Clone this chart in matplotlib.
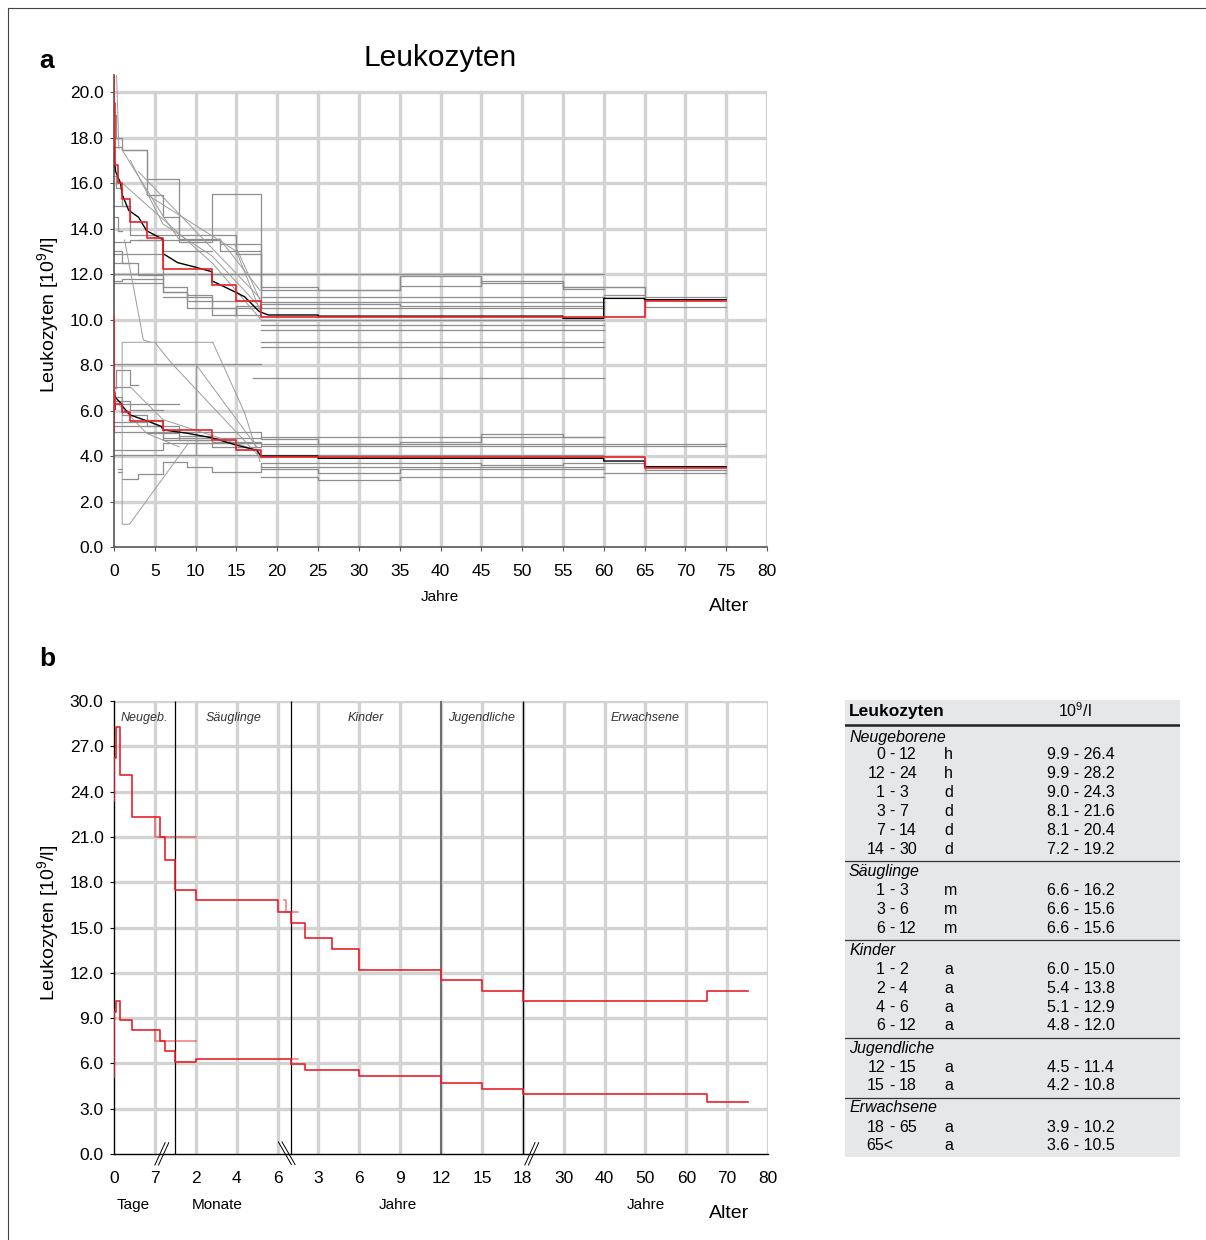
import numpy as np
import matplotlib.pyplot as plt
from matplotlib.lines import Line2D

plt.rcParams['font.family'] = ['Liberation Sans', 'DejaVu Sans']
plt.rcParams['mathtext.default'] = 'regular'

W, H = 1206, 1240

# reference limits (age in days, step "post")
ref_age_days = [0, 0, 0.3, 1, 3, 13, 18, 30, 60, 180, 365, 730, 1460, 2190,
                4380, 5475, 6570, 23725, 27375]
ref_upper = [23.4, 26.2, 28.3, 25.1, 22.3, 21.0, 19.5, 17.5, 16.8, 16.0, 15.3,
             14.3, 13.6, 12.2, 11.5, 10.8, 10.1, 10.8, 10.8]
ref_lower = [5.1, 9.4, 10.1, 8.9, 8.2, 7.5, 6.8, 6.07, 6.3, 6.3, 5.94, 5.55,
             5.55, 5.15, 4.72, 4.28, 3.95, 3.47, 3.47]

# overlapping secondary pieces in panel b (days)
extra_up = [([7, 7, 60], [22.3, 21.0, 21.0]),
            ([270, 290, 290, 548], [16.8, 16.8, 16.0, 16.0])]
extra_lo = [([7, 7, 60], [8.2, 7.5, 7.5]),
            ([365, 548], [6.3, 6.3])]

# black (mean) curves in panel a (years)
blk_up_x = [0, 0.05, 0.2, 0.8, 1.0, 1.8, 3.0, 4.0, 5.6, 6.0, 6.0, 7.8, 10, 12, 12,
            14.9, 16, 17.8, 18.9, 25, 25, 55, 55, 60, 60, 65, 65, 75]
blk_up_y = [17.6, 17.0, 16.5, 16.0, 15.5, 14.8, 14.5, 13.9, 13.6, 13.5, 12.9, 12.5,
            12.3, 12.1, 11.7, 11.2, 11.0, 10.35, 10.2, 10.2, 10.15, 10.15, 10.05,
            10.05, 10.93, 10.93, 10.87, 10.87]
blk_lo_x = [0, 0.1, 0.9, 1.0, 2.0, 4.0, 5.8, 6.0, 9, 12, 14.8, 17.5, 18, 25, 25,
            60, 60, 65, 65, 75]
blk_lo_y = [6.9, 6.6, 6.3, 6.2, 5.8, 5.55, 5.3, 5.15, 5.0, 4.8, 4.5, 4.25, 4.0, 4.0,
            3.9, 3.9, 3.78, 3.78, 3.53, 3.53]

# other studies, step curves (age edges in years, values)
grey_steps = [
    ([0, 0.3, 1, 4, 6, 8, 13, 18, 60], [19.0, 17.97, 17.45, 15.47, 14.5, 13.56, 13.0, 11.0]),
    ([0, 1, 4, 8, 12, 18, 25, 35, 45, 55, 60], [17.6, 17.45, 16.18, 13.4, 15.5, 11.44, 11.3, 11.91, 11.62, 11.35]),
    ([0, 2, 15, 18, 35, 45, 55, 65], [15.0, 13.7, 12.9, 11.3, 11.47, 11.7, 11.44]),
    ([0, 2, 13, 18, 60], [13.4, 13.5, 13.3, 10.78]),
    ([0, 60], [12.0]),
    ([0, 3, 6, 9, 18, 35, 60], [12.5, 11.94, 11.43, 10.5, 10.7, 10.6]),
    ([0, 6, 9, 12, 15, 18, 60], [11.6, 11.2, 11.0, 10.2, 10.6, 10.49]),
    ([0, 3, 6, 9, 12, 18], [12.9, 12.9, 11.2, 11.1, 10.8]),
    ([6, 9, 12, 15, 18], [11.0, 10.8, 10.5, 10.2]),
    ([0, 1, 6], [11.7, 11.8]),
    ([3, 6, 12], [13.5, 13.0]),
    ([0, 0.3, 1, 2], [16.3, 15.8, 15.0]),
    ([0, 0.5, 1], [14.5, 13.9]),
    ([0, 1, 2], [13.0, 12.5]),
    ([18, 60], [9.98]),
    ([18, 60], [9.76]),
    ([18, 60], [9.54]),
    ([18, 60], [9.02]),
    ([18, 60], [8.8]),
    ([17, 60], [7.41]),
    ([55, 65, 75], [11.44, 11.0]),
    ([60, 65, 75], [11.08, 10.56]),
    ([0, 18], [8.04]),
    ([0, 0.3, 2, 3], [7.0, 7.78, 7.12]),
    ([0, 2], [7.05]),
    ([0, 2, 6], [6.4, 6.02]),
    ([0, 4, 8], [6.3, 6.3]),
    ([0, 1, 4, 6, 12, 18], [6.6, 5.8, 5.6, 4.7, 4.4]),
    ([4, 8, 12], [5.0, 4.7]),
    ([0, 4, 8, 12, 18], [5.5, 5.3, 4.9, 4.6]),
    ([0, 18, 25, 35, 45, 55, 60], [5.07, 4.75, 4.53, 4.63, 4.95, 4.82]),
    ([0, 6, 18, 60], [5.3, 4.78, 4.82]),
    ([9, 18, 75], [4.56, 4.44]),
    ([0, 6, 18, 75], [4.26, 4.56, 4.53]),
    ([0, 18, 60], [4.04, 4.04]),
    ([1, 3, 6, 9, 12, 18, 45, 55, 60], [3.0, 3.22, 3.75, 3.53, 3.31, 3.68, 3.6, 3.68]),
    ([18, 60], [3.53]),
    ([18, 25, 35, 60], [3.42, 3.24, 3.42]),
    ([18, 25, 35, 60], [3.06, 2.94, 3.06]),
    ([60, 65, 75], [3.68, 3.38]),
    ([60, 65, 75], [3.24, 3.27]),
    ([0.5, 1], [3.45]),
    ([0.5, 1], [3.3]),
]

# other studies, interpolated curves (years, values)
grey_lines = [
    ([0.3, 0.6], [20.9, 17.5]),
    ([1, 6.1, 7.9], [17.45, 14.5, 13.56]),
    ([12.9, 17.9], [13.56, 11.28]),
    ([2, 6, 12, 18], [17.0, 14.2, 12.8, 10.5]),
    ([3, 18], [16.5, 10.9]),
    ([4, 15, 18], [15.5, 13.0, 10.3]),
    ([1, 12, 18], [16.0, 12.5, 10.0]),
    ([14.8, 17.9], [13.3, 10.85]),
    ([1.3, 3.6, 4.5], [13.5, 9.1, 9.0]),
    ([12.1, 1, 1, 1.9, 9.1], [9.0, 9.0, 1.0, 1.0, 4.56]),
    ([10, 10], [8.04, 4.1]),
    ([5, 7, 18], [9.0, 8.1, 3.9]),
    ([10, 17.5], [8.04, 4.4]),
    ([2.1, 6, 18], [7.0, 5.6, 4.2]),
    ([12.1, 16, 17.9], [9.0, 5.9, 3.75]),
    ([0.5, 4, 8], [6.3, 5.0, 4.4]),
]

# panel b age axis: broken scale (days -> tick positions)
age_knots = [0, 7, 30, 180, 365, 18 * 365, 30 * 365, 80 * 365]
pos_knots = [0, 1, 1.5, 4, 4 + 1 / 3, 10, 11, 16]
b_tick_days = [0, 7, 60, 120, 180, 3 * 365, 6 * 365, 9 * 365, 12 * 365, 15 * 365,
               18 * 365, 30 * 365, 40 * 365, 50 * 365, 60 * 365, 70 * 365, 80 * 365]
b_tick_labels = ['0', '7', '2', '4', '6', '3', '6', '9', '12', '15', '18',
                 '30', '40', '50', '60', '70', '80']
group_bounds = [0, 30, 365, 12 * 365, 18 * 365, 80 * 365]
group_short = ['Neugeb.', 'Säuglinge', 'Kinder', 'Jugendliche', 'Erwachsene']

# table
tbl_group = ['Neugeborene', 'Säuglinge', 'Kinder', 'Jugendliche', 'Erwachsene']
tbl_group_size = [6, 3, 4, 2, 2]
tbl_lo = ['0', '12', '1', '3', '7', '14', '1', '3', '6', '1', '2', '4', '6', '12', '15', '18', '65<']
tbl_hi = ['12', '24', '3', '7', '14', '30', '3', '6', '12', '2', '4', '6', '12', '15', '18', '65', '']
tbl_unit = ['h', 'h', 'd', 'd', 'd', 'd', 'm', 'm', 'm', 'a', 'a', 'a', 'a', 'a', 'a', 'a', 'a']
tbl_range = ['9.9 - 26.4', '9.9 - 28.2', '9.0 - 24.3', '8.1 - 21.6', '8.1 - 20.4', '7.2 - 19.2',
             '6.6 - 16.2', '6.6 - 15.6', '6.6 - 15.6', '6.0 - 15.0', '5.4 - 13.8', '5.1 - 12.9',
             '4.8 - 12.0', '4.5 - 11.4', '4.2 - 10.8', '3.9 - 10.2', '3.6 - 10.5']

RED = '#e8202a'
GRID = '#d3d3d3'
GREY = '#8e8e8e'


def fx(px):
    return px / W


def fy(py):
    return 1 - py / H


def fwd(d):
    return np.interp(d, age_knots, pos_knots)


def inv(p):
    return np.interp(p, pos_knots, age_knots)


fig = plt.figure(figsize=(W / 100, H / 100), dpi=100)

# ---------------- panel a ----------------
ax = fig.add_axes([fx(114), fy(547), (767 - 114) / W, (547 - 75) / H])
ax.set_xlim(0, 80)
ax.set_ylim(0, 20.75)
ax.vlines(np.arange(5, 81, 5), 0, 20, color=GRID, lw=2.4, zorder=0)
ax.hlines(np.arange(2, 21, 2), 0, 80, color=GRID, lw=2.4, zorder=0)

for edges, vals in grey_steps:
    ax.step(edges, list(vals) + [vals[-1]], where='post', color=GREY, lw=0.9, zorder=2)
for xs, ys in grey_lines:
    ax.plot(xs, ys, color='#9c9c9c', lw=0.7, zorder=2)

ax.plot(blk_up_x, blk_up_y, color='black', lw=1.0, zorder=3)
ax.plot(blk_lo_x, blk_lo_y, color='black', lw=1.0, zorder=3)
age_years = np.array(ref_age_days) / 365
ax.step(age_years, ref_upper, where='post', color=RED, lw=1.2, zorder=4)
ax.step(age_years, ref_lower, where='post', color=RED, lw=1.2, zorder=4)

ax.set_xticks(range(0, 81, 5))
ax.set_yticks(np.arange(0, 21, 2))
ax.set_yticklabels([f'{v:.1f}' for v in np.arange(0, 21, 2)])
ax.tick_params(axis='y', direction='out', length=3, width=0.8, pad=4.5, labelsize=12.5, color='#555555')
ax.tick_params(axis='x', direction='out', length=3, width=0.8, pad=9, labelsize=12.5, color='#555555')
for s in ['top', 'right']:
    ax.spines[s].set_visible(False)
for s in ['left', 'bottom']:
    ax.spines[s].set_color('#555555')
    ax.spines[s].set_linewidth(1.2)

fig.text(fx(440), fy(58), 'Leukozyten', ha='center', va='center', fontsize=21.5)
fig.text(fx(47), fy(61), 'a', ha='center', va='center', fontsize=19, fontweight='bold')
fig.text(fx(48), fy(315), 'Leukozyten [10$^9$/l]', rotation=90, ha='center', va='center', fontsize=14)
fig.text(fx(440), fy(597), 'Jahre', ha='center', va='center', fontsize=11)
fig.text(fx(729), fy(606), 'Alter', ha='center', va='center', fontsize=14)

# ---------------- panel b ----------------
bx = fig.add_axes([fx(114), fy(1154), (768 - 114) / W, (1154 - 701) / H])
bx.set_xscale('function', functions=(fwd, inv))
bx.set_xlim(0, 80 * 365)
bx.set_ylim(0, 30)
bx.vlines(b_tick_days[1:], 0, 30, color=GRID, lw=2.4, zorder=0)
bx.hlines(np.arange(3, 31, 3), 0, 80 * 365, color=GRID, lw=2.4, zorder=0)
bx.vlines(group_bounds[1:-1], 0, 30, color=['black', 'black', '#666666', 'black'],
          lw=[0.9, 0.9, 1.3, 0.9], zorder=1)

bx.step(ref_age_days, ref_upper, where='post', color=RED, lw=1.2, zorder=4)
bx.step(ref_age_days, ref_lower, where='post', color=RED, lw=1.2, zorder=4)
for xs, ys in extra_up + extra_lo:
    bx.plot(xs, ys, color=RED, lw=1.2, alpha=0.55, zorder=3)

for i, name in enumerate(group_short):
    c = inv((fwd(group_bounds[i]) + fwd(group_bounds[i + 1])) / 2)
    bx.text(c, 28.9, name, ha='center', va='center', fontsize=9, style='italic', color='#333333')

# axis break marks
for p0, p1, y0, y1 in [(1.0, 1.25, -0.73, 0.75), (4.02, 4.34, 0.8, -0.7), (10.05, 10.3, -0.73, 0.75)]:
    for off in (0, 0.09):
        bx.plot(inv(np.array([p0 + off, p1 + off])), [y0, y1], color='black', lw=0.7,
                clip_on=False, zorder=5)

bx.set_xticks(b_tick_days)
bx.set_xticklabels(b_tick_labels)
bx.set_yticks(np.arange(0, 31, 3))
bx.set_yticklabels([f'{v:.1f}' for v in np.arange(0, 31, 3)])
bx.tick_params(axis='y', direction='out', length=3, width=0.8, pad=4.5, labelsize=12.5)
bx.tick_params(axis='x', length=0, pad=12, labelsize=12.5)
bx.minorticks_off()
for s in ['top', 'right']:
    bx.spines[s].set_visible(False)
for s in ['left', 'bottom']:
    bx.spines[s].set_linewidth(1.0)

fig.text(fx(47), fy(659), 'b', ha='center', va='center', fontsize=19, fontweight='bold')
fig.text(fx(48), fy(923), 'Leukozyten [10$^9$/l]', rotation=90, ha='center', va='center', fontsize=14)
for x, t in [(133, 'Tage'), (217, 'Monate'), (398, 'Jahre'), (646, 'Jahre')]:
    fig.text(fx(x), fy(1205), t, ha='center', va='center', fontsize=11)
fig.text(fx(729), fy(1214), 'Alter', ha='center', va='center', fontsize=14)

# ---------------- table ----------------
tx = fig.add_axes([fx(845), fy(1157), (1180 - 845) / W, (1157 - 700) / H])
tx.set_xlim(845, 1180)
tx.set_ylim(1157, 700)
tx.axis('off')
tx.add_patch(plt.Rectangle((845, 700), 335, 457, color='#e6e7e8', zorder=0))
tx.text(849, 711, 'Leukozyten', fontsize=12.5, fontweight='bold', va='center', ha='left')
tx.text(1075, 711, '10$^9$/l', fontsize=11.5, va='center', ha='center')
tx.plot([845, 1180], [725, 725], color='#222222', lw=1.8)

y = 737
row = 0
for g, name in enumerate(tbl_group):
    tx.text(849, y, name, fontsize=11.5, style='italic', va='center', ha='left')
    for k in range(tbl_group_size[g]):
        y += 17 if (g == 0 and k == 0) else 19
        if tbl_hi[row]:
            tx.text(885, y, tbl_lo[row], fontsize=11.5, va='center', ha='right')
            tx.text(892, y, '-', fontsize=11.5, va='center', ha='center')
            tx.text(899, y, tbl_hi[row], fontsize=11.5, va='center', ha='left')
        else:
            tx.text(866, y, tbl_lo[row], fontsize=11.5, va='center', ha='left')
        tx.text(944, y, tbl_unit[row], fontsize=11.5, va='center', ha='left')
        tx.text(1047, y, tbl_range[row], fontsize=11.5, va='center', ha='left')
        row += 1
    if g < len(tbl_group) - 1:
        tx.plot([845, 1180], [y + 11.5, y + 11.5], color='#333333', lw=0.9)
        y += 22

# frame of the figure
fig.add_artist(Line2D([fx(8), 1], [fy(8), fy(8)], color='#444444', lw=0.8))
fig.add_artist(Line2D([fx(8), fx(8)], [fy(8), 0], color='#444444', lw=0.8))

fig.savefig('out.png', dpi=100)
